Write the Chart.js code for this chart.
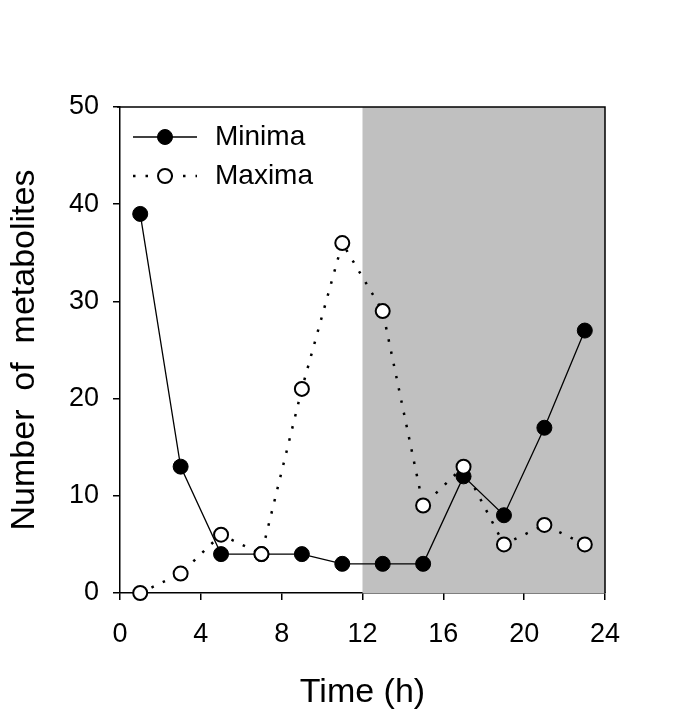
<!DOCTYPE html>
<html>
<head>
<meta charset="utf-8">
<script src="https://cdn.jsdelivr.net/npm/chart.js@4/dist/chart.umd.min.js"></script>
<style>
html,body{margin:0;padding:0;background:#fff;}
#wrap{width:685px;height:715px;}
</style>
</head>
<body>
<div id="wrap"><canvas id="c" width="685" height="715"></canvas></div>
<script>
const times = [1, 3, 5, 7, 9, 11, 13, 15, 17, 19, 21, 23];
const minima = [39, 13, 4, 4, 4, 3, 3, 3, 12, 8, 17, 27];
const maxima = [0, 2, 6, 4, 21, 36, 29, 9, 13, 5, 7, 5];
const xTicks = [0, 4, 8, 12, 16, 20, 24];
const yTicks = [0, 10, 20, 30, 40, 50];
const darkStart = 12;
const darkEnd = 24;
const seriesLabels = ['Minima', 'Maxima'];
const xTitle = 'Time (h)';
const yTitle = 'Number  of  metabolites';

const FONT = "'Liberation Sans', Arial, Helvetica, sans-serif";

const bandPlugin = {
  id: 'band',
  beforeDatasetsDraw(chart) {
    const {ctx, chartArea, scales} = chart;
    const x0 = scales.x.getPixelForValue(darkStart);
    const x1 = scales.x.getPixelForValue(darkEnd);
    ctx.save();
    ctx.fillStyle = '#c0c0c0';
    ctx.fillRect(x0, chartArea.top, x1 - x0, chartArea.bottom - chartArea.top);
    ctx.restore();
  },
  afterDatasetsDraw(chart) {
    const {ctx, chartArea} = chart;
    ctx.save();
    ctx.strokeStyle = '#000';
    ctx.lineWidth = 1.5;
    ctx.beginPath();
    ctx.moveTo(chartArea.left - 3, chartArea.top);
    ctx.lineTo(chartArea.right, chartArea.top);
    ctx.lineTo(chartArea.right, chartArea.bottom);
    ctx.stroke();
    ctx.restore();
  },
  afterDraw(chart) {
    const {ctx} = chart;
    const ds = chart.data.datasets;
    const rows = [
      {d: ds[0], y: 137},
      {d: ds[1], y: 176}
    ];
    ctx.save();
    rows.forEach(r => {
      const d = r.d;
      ctx.strokeStyle = '#000';
      ctx.lineWidth = d.borderWidth;
      ctx.setLineDash(d.borderDash || []);
      ctx.beginPath();
      ctx.moveTo(133, r.y);
      ctx.lineTo(197, r.y);
      ctx.stroke();
      ctx.setLineDash([]);
      ctx.beginPath();
      ctx.arc(165, r.y, d.pointRadius, 0, Math.PI * 2);
      ctx.fillStyle = d.pointBackgroundColor;
      ctx.fill();
      ctx.lineWidth = d.pointBorderWidth;
      ctx.strokeStyle = d.pointBorderColor;
      ctx.stroke();
      ctx.fillStyle = '#000';
      ctx.font = '28px ' + FONT;
      ctx.textBaseline = 'middle';
      ctx.textAlign = 'left';
      ctx.fillText(d.label, 215, r.y);
    });
    ctx.restore();
  }
};

new Chart(document.getElementById('c'), {
  type: 'line',
  data: {
    datasets: [
      {
        label: seriesLabels[0],
        data: times.map((t, i) => ({x: t, y: minima[i]})),
        borderColor: '#000',
        borderWidth: 1.3,
        pointRadius: 7.5,
        pointBackgroundColor: '#000',
        pointBorderColor: '#000',
        pointBorderWidth: 1,
        order: 1,
        clip: false
      },
      {
        label: seriesLabels[1],
        data: times.map((t, i) => ({x: t, y: maxima[i]})),
        borderColor: '#000',
        borderWidth: 2.5,
        borderDash: [2.5, 10],
        pointRadius: 7,
        pointBackgroundColor: '#fff',
        pointBorderColor: '#000',
        pointBorderWidth: 2,
        order: 0,
        clip: false
      }
    ]
  },
  options: {
    responsive: false,
    animation: false,
    devicePixelRatio: 1,
    layout: {padding: {top: 107, right: 80, left: 0, bottom: 0}},
    plugins: {legend: {display: false}, tooltip: {enabled: false}},
    scales: {
      x: {
        type: 'linear',
        min: 0, max: 24,
        afterBuildTicks(s) { s.ticks = xTicks.map(v => ({value: v})); },
        afterFit(s) { s.height = 122; },
        ticks: {
          color: '#000',
          font: {family: FONT, size: 27},
          padding: 18,
          maxRotation: 0,
          autoSkip: false
        },
        grid: {drawOnChartArea: false, drawTicks: true, tickLength: 7, color: '#000', lineWidth: 1.5},
        border: {display: true, color: '#000', width: 1.5},
        title: {display: true, text: xTitle, color: '#000', font: {family: FONT, size: 34}, padding: {top: 2, bottom: 2}}
      },
      y: {
        type: 'linear',
        min: 0, max: 50,
        afterBuildTicks(s) { s.ticks = yTicks.map(v => ({value: v})); },
        afterFit(s) { s.width = 120; },
        ticks: {
          color: '#000',
          font: {family: FONT, size: 27},
          padding: 14
        },
        grid: {drawOnChartArea: false, drawTicks: true, tickLength: 7, color: '#000', lineWidth: 1.5},
        border: {display: true, color: '#000', width: 1.5},
        title: {display: true, text: yTitle, color: '#000', font: {family: FONT, size: 34}, padding: {top: 4, bottom: 4}}
      }
    }
  },
  plugins: [bandPlugin]
});
</script>
</body>
</html>
